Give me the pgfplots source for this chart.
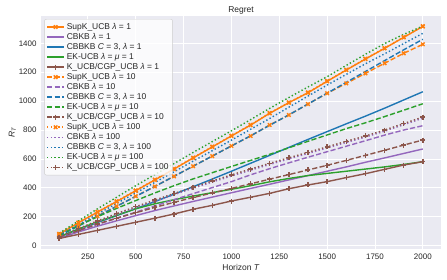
\documentclass[border=0pt]{standalone}
\usepackage{pgfplots}
\pgfplotsset{compat=1.18}
\usepackage{pgfplotstable}
\usepackage{fontspec}
\setmainfont{Liberation Sans}
\definecolor{cblue}{HTML}{1F77B4}
\definecolor{corange}{HTML}{FF7F0E}
\definecolor{cgreen}{HTML}{2CA02C}
\definecolor{cpurple}{HTML}{9467BD}
\definecolor{cbrown}{HTML}{8C564B}
\definecolor{bgc}{HTML}{EAEAF2}
\definecolor{txt}{HTML}{262626}
\pgfplotstableread{
T    supk cbkb cbbkb ek  kucb
100  80   50   62    60  50
200  158  95   112   115 78
300  232  135  160   165 106
400  305  172  208   210 134
500  380  208  256   255 162
600  455  243  305   290 190
700  530  275  356   318 219
800  607  306  408   343 252
900  683  336  461   367 279
1000 759  366  515   390 309
1100 834  396  570   415 335
1200 916  425  625   442 362
1300 989  455  680   465 394
1400 1058 485  735   485 420
1500 1137 515  789   500 443
1600 1215 545  843   515 471
1700 1291 577  896   530 498
1800 1365 607  951   545 528
1900 1441 638  1008  562 558
2000 1517 669  1065  581 581
}\lamone
\pgfplotstableread{
T    supk cbkb cbbkb ek  kucb
100  72   55   68    72  55
200  138  102  135   140 105
300  205  147  203   200 150
400  273  190  272   258 190
500  342  232  341   312 228
600  410  275  410   365 265
700  480  318  480   415 300
800  550  360  550   462 333
900  620  402  620   505 365
1000 690  443  690   548 396
1100 759  490  760   590 428
1200 835  533  833   632 460
1300 904  573  905   677 492
1400 980  612  980   722 524
1500 1054 650  1055  766 556
1600 1123 688  1130  810 590
1700 1192 726  1205  850 625
1800 1262 765  1280  893 660
1900 1331 800  1355  937 696
2000 1393 830  1428  982 731
}\lamten
\pgfplotstableread{
T    supk cbkb cbbkb ek   kucb
100  82   56   72    86   60
200  160  112  145   170  118
300  234  165  218   255  172
400  307  215  292   335  222
500  382  262  365   415  270
600  457  308  438   492  316
700  532  353  511   568  361
800  609  397  585   645  405
900  685  440  657   720  448
1000 761  482  730   795  490
1100 836  522  805   872  530
1200 918  562  880   950  570
1300 991  600  958   1025 608
1400 1060 638  1035  1098 646
1500 1139 676  1111  1169 684
1600 1217 714  1185  1247 722
1700 1293 751  1258  1324 759
1800 1367 792  1327  1398 800
1900 1443 837  1398  1462 845
2000 1518 882  1469  1519 890
}\lamhun
\begin{document}
\begin{tikzpicture}
\path[use as bounding box] (0,0) rectangle (447bp,280bp);
\begin{axis}[
  at={(41bp,31bp)}, anchor=south west,
  width=400bp, height=233bp, scale only axis,
  xmin=5, xmax=2095, ymin=-23, ymax=1589,
  xtick={250,500,750,1000,1250,1500,1750,2000},
  ytick={0,200,400,600,800,1000,1200,1400},
  axis background/.style={fill=bgc},
  axis line style={draw=none},
  major tick style={draw=none},
  grid=major,
  major grid style={white, line width=0.9bp},
  /pgf/number format/assume math mode=true,
  /pgf/number format/set thousands separator={},
  ticklabel style={font=\fontsize{8}{9}\selectfont, text=txt},
  xticklabel style={yshift=-1bp},
  yticklabel style={xshift=-1bp},
  xlabel={Horizon \textit{T}},
  ylabel={\textit{R}\textsubscript{\textit{T}}},
  label style={font=\fontsize{8.5}{10}\selectfont, text=txt},
  xlabel style={yshift=2bp},
  ylabel style={yshift=-4bp},
  title={Regret},
  title style={font=\fontsize{8.5}{10}\selectfont, text=txt, yshift=-7.5bp},
  legend cell align=left,
  legend style={at={(0.008,0.987)}, anchor=north west,
    fill=white, fill opacity=0.8, text opacity=1, draw=black!20,
    rounded corners=2bp, font=\fontsize{8.5}{9}\selectfont, text=txt,
    row sep=-1.6bp, inner sep=2bp},
  mark size=2.5bp,
  every axis plot/.append style={line width=1.4bp},
]
% lambda = 1
\addplot[corange, mark=x, mark options={solid}] table[x=T,y=supk]{\lamone};
\addlegendentry{SupK\_UCB \textit{λ} = 1}
\addplot[cpurple] table[x=T,y=cbkb]{\lamone};
\addlegendentry{CBKB \textit{λ} = 1}
\addplot[cblue] table[x=T,y=cbbkb]{\lamone};
\addlegendentry{CBBKB \textit{C} = 3, \textit{λ} = 1}
\addplot[cgreen] table[x=T,y=ek]{\lamone};
\addlegendentry{EK-UCB \textit{λ} = \textit{μ} = 1}
\addplot[cbrown, mark=+, mark options={solid}] table[x=T,y=kucb]{\lamone};
\addlegendentry{K\_UCB/CGP\_UCB \textit{λ} = 1}
% lambda = 10
\addplot[corange, dash pattern=on 5.2bp off 2.3bp, mark=x, mark options={solid}] table[x=T,y=supk]{\lamten};
\addlegendentry{SupK\_UCB \textit{λ} = 10}
\addplot[cpurple, dash pattern=on 5.2bp off 2.3bp] table[x=T,y=cbkb]{\lamten};
\addlegendentry{CBKB \textit{λ} = 10}
\addplot[cblue, dash pattern=on 5.2bp off 2.3bp] table[x=T,y=cbbkb]{\lamten};
\addlegendentry{CBBKB \textit{C} = 3, \textit{λ} = 10}
\addplot[cgreen, dash pattern=on 5.2bp off 2.3bp] table[x=T,y=ek]{\lamten};
\addlegendentry{EK-UCB \textit{λ} = \textit{μ} = 10}
\addplot[cbrown, dash pattern=on 5.2bp off 2.3bp, mark=+, mark options={solid}] table[x=T,y=kucb]{\lamten};
\addlegendentry{K\_UCB/CGP\_UCB \textit{λ} = 10}
% lambda = 100
\addplot[corange, dash pattern=on 1.4bp off 2.3bp, mark=x, mark options={solid}] table[x=T,y=supk]{\lamhun};
\addlegendentry{SupK\_UCB \textit{λ} = 100}
\addplot[cpurple, dash pattern=on 1.4bp off 2.3bp] table[x=T,y=cbkb]{\lamhun};
\addlegendentry{CBKB \textit{λ} = 100}
\addplot[cblue, dash pattern=on 1.4bp off 2.3bp] table[x=T,y=cbbkb]{\lamhun};
\addlegendentry{CBBKB \textit{C} = 3, \textit{λ} = 100}
\addplot[cgreen, dash pattern=on 1.4bp off 2.3bp] table[x=T,y=ek]{\lamhun};
\addlegendentry{EK-UCB \textit{λ} = \textit{μ} = 100}
\addplot[cbrown, dash pattern=on 1.4bp off 2.3bp, mark=+, mark options={solid}] table[x=T,y=kucb]{\lamhun};
\addlegendentry{K\_UCB/CGP\_UCB \textit{λ} = 100}
\end{axis}
\end{tikzpicture}
\end{document}
